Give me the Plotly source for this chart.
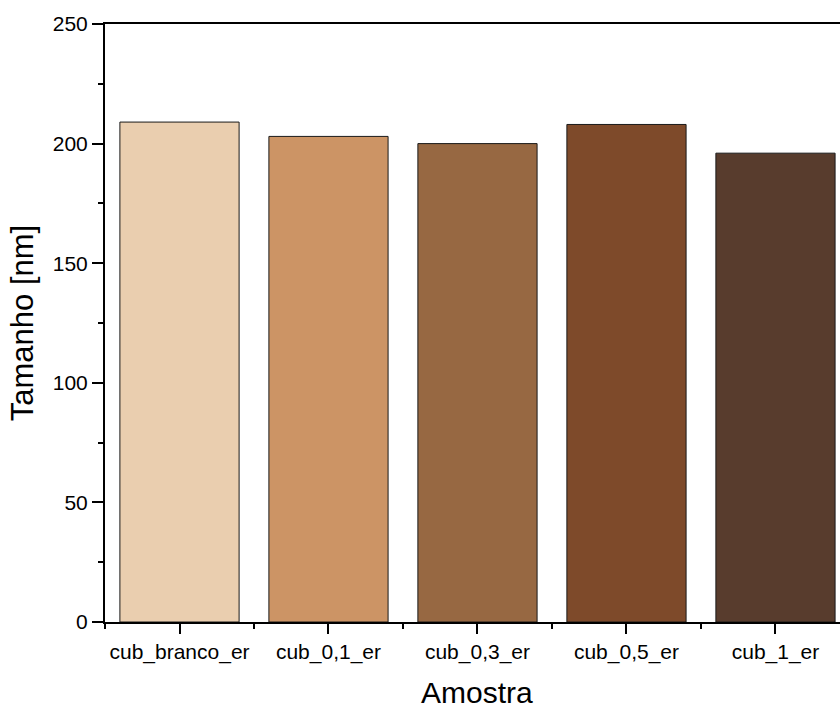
import plotly.graph_objects as go

# Sample names and measured particle size (nm)
amostras = ["cub_branco_er", "cub_0,1_er", "cub_0,3_er", "cub_0,5_er", "cub_1_er"]
tamanho = [209, 203, 200, 208, 196]
cores = ["#EACEAF", "#CC9465", "#976842", "#7E4A2A", "#583C2D"]

y_ticks = [0, 50, 100, 150, 200, 250]

posicoes = list(range(len(amostras)))

fonte = "Arial, Liberation Sans, sans-serif"

fig = go.Figure(
    go.Bar(
        x=posicoes,
        y=tamanho,
        width=0.8,
        marker=dict(color=cores, line=dict(color="#1a1a1a", width=1)),
        showlegend=False,
    )
)

fig.update_layout(
    width=840,
    height=708,
    margin=dict(l=105, r=0, t=24, b=86, autoexpand=False),
    paper_bgcolor="white",
    plot_bgcolor="white",
    font=dict(family=fonte, color="black"),
)

fig.update_xaxes(
    range=[-0.5, 4.433],
    tickmode="array",
    tickvals=posicoes,
    ticktext=amostras,
    tickfont=dict(size=21),
    ticks="outside",
    ticklen=10,
    tickwidth=2,
    tickcolor="black",
    minor=dict(tickmode="linear", tick0=-0.5, dtick=1, ticks="outside",
               ticklen=5, tickwidth=2, tickcolor="black"),
    showline=True,
    linewidth=2,
    linecolor="black",
    mirror=True,
    showgrid=False,
    zeroline=False,
)

# x-axis title centred on the full category span (-0.5 .. 4.5)
fig.add_annotation(
    text="Amostra",
    x=(len(amostras) - 1) / 2,
    xref="x",
    y=0,
    yref="paper",
    xanchor="center",
    yanchor="middle",
    yshift=-70,
    showarrow=False,
    font=dict(size=30, family=fonte, color="black"),
)

fig.update_yaxes(
    range=[0, 250],
    tickmode="array",
    tickvals=y_ticks,
    tickfont=dict(size=21),
    ticks="outside",
    ticklen=11,
    tickwidth=2,
    tickcolor="black",
    minor=dict(tickmode="linear", tick0=0, dtick=25, ticks="outside",
               ticklen=5, tickwidth=2, tickcolor="black"),
    showline=True,
    linewidth=2,
    linecolor="black",
    mirror=False,
    showgrid=False,
    zeroline=False,
    title=dict(text="Tamanho [nm]", font=dict(size=31), standoff=10),
)

fig.write_html("out.html")
